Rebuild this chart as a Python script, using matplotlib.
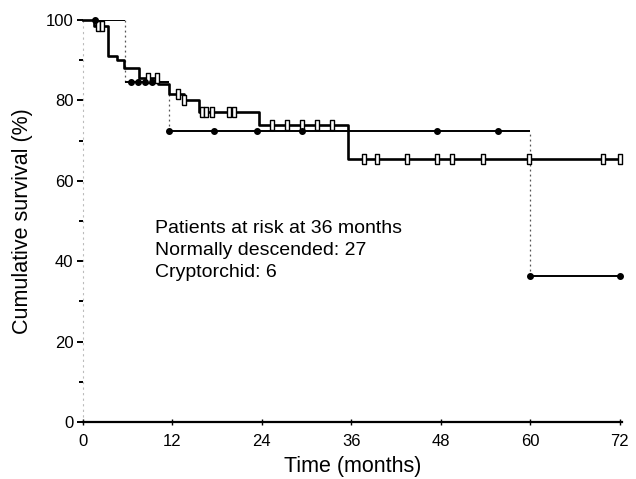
import numpy as np
import matplotlib
matplotlib.use("Agg")
import matplotlib.pyplot as plt
from matplotlib.ticker import MultipleLocator

# Kaplan-Meier steps (time in months, survival in %)
nd_times = [0, 1.5, 3.4, 4.6, 5.5, 7.5, 10.0, 11.6, 13.5, 15.5, 23.6, 35.5]
nd_surv  = [100, 98.6, 91.0, 90.0, 88.0, 85.5, 84.0, 81.5, 80.0, 77.0, 74.0, 65.3]
nd_cens  = [2.0, 2.6, 8.7, 9.9, 12.8, 13.6, 16.0, 16.5, 17.3, 19.6, 20.3,
            25.4, 27.4, 29.4, 31.4, 33.4, 37.7, 39.4, 43.4, 47.5, 49.5,
            53.7, 59.8, 69.8, 72.0]

cr_times = [0, 5.6, 11.6, 60.0]
cr_surv  = [100, 84.5, 72.5, 36.3]
cr_cens  = [1.6, 6.5, 7.4, 8.3, 9.2, 11.6, 17.6, 23.4, 29.4, 47.5, 55.7,
            60.0, 72.0]

t_end = 72.0
x_ticks = [0, 12, 24, 36, 48, 60, 72]
y_ticks = [0, 20, 40, 60, 80, 100]
note = "Patients at risk at 36 months\nNormally descended: 27\nCryptorchid: 6"

plt.rcParams['font.family'] = ['Liberation Sans', 'DejaVu Sans']


def surv_at(times, surv, t):
    i = np.searchsorted(times, t, side="right") - 1
    return np.asarray(surv)[i]


fig = plt.figure(figsize=(6.36, 4.79), dpi=100)
ax = fig.add_axes([83 / 636, 57 / 479, 539 / 636, 402 / 479])

# normally descended: thick solid steps, open box censor marks
xs = list(nd_times) + [t_end]
ys = list(nd_surv) + [nd_surv[-1]]
ax.step(xs, ys, where="post", color="black", lw=1.9, clip_on=False, zorder=3)
box = [(-0.45, -1), (0.45, -1), (0.45, 1), (-0.45, 1), (-0.45, -1)]
ax.plot(nd_cens, [surv_at(nd_times, nd_surv, t) for t in nd_cens],
        ls="none", marker=box, ms=6.5, mfc="white", mec="black", mew=1.0,
        clip_on=False, zorder=4)

# cryptorchid: thin solid horizontals, dotted drops, filled dot marks
ends = list(cr_times[1:]) + [t_end]
ax.hlines(cr_surv, cr_times, ends, color="black", lw=1.4, zorder=3)
ax.vlines(cr_times[1:], cr_surv[1:], cr_surv[:-1], color="#555555",
          lw=0.9, ls=(0, (1.5, 2.5)), zorder=2)
ax.plot(cr_cens, [surv_at(cr_times, cr_surv, t) for t in cr_cens],
        ls="none", marker="o", ms=4, color="black", clip_on=False, zorder=5)

ax.text(9.6, 50.3, note, fontsize=14, va="top", ha="left", linespacing=1.4)

ax.set_xlim(0, 72.3)
ax.set_ylim(0, 100)
ax.set_xticks(x_ticks)
ax.set_yticks(y_ticks)
ax.yaxis.set_minor_locator(MultipleLocator(10))
ax.tick_params(axis="both", labelsize=12, colors="black")
ax.tick_params(axis="y", which="major", length=4, width=1.4, direction="out", pad=3)
ax.tick_params(axis="y", which="minor", length=3, width=1.4, direction="out")
ax.tick_params(axis="x", which="major", length=5, width=1.0, direction="inout", pad=6)

for s in ["top", "right"]:
    ax.spines[s].set_visible(False)
ax.spines["bottom"].set_linewidth(1.6)
ax.spines["left"].set_linewidth(0.8)
ax.spines["left"].set_color("#bbbbbb")
ax.spines["left"].set_linestyle((0, (1, 4)))

ax.set_ylabel("Cumulative survival (%)", fontsize=15.5, labelpad=9)
ax.set_xlabel("Time (months)", fontsize=15.5, labelpad=5)

fig.savefig("out.png", dpi=100)
